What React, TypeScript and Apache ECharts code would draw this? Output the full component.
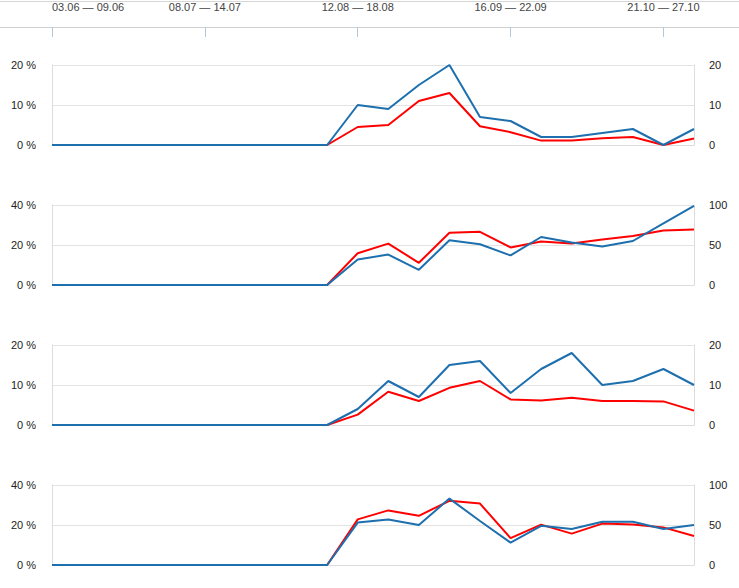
import React, { useEffect, useRef } from "react";
import * as echarts from "echarts";

const weeks = [
  "03.06 — 09.06", "10.06 — 16.06", "17.06 — 23.06", "24.06 — 30.06", "01.07 — 07.07",
  "08.07 — 14.07", "15.07 — 21.07", "22.07 — 28.07", "29.07 — 04.08", "05.08 — 11.08",
  "12.08 — 18.08", "19.08 — 25.08", "26.08 — 01.09", "02.09 — 08.09", "09.09 — 15.09",
  "16.09 — 22.09", "23.09 — 29.09", "30.09 — 06.10", "07.10 — 13.10", "14.10 — 20.10",
  "21.10 — 27.10", "28.10 — 03.11",
];

const red1 = [0, 0, 0, 0, 0, 0, 0, 0, 0, 0, 4.5, 5.0, 11.0, 13.0, 4.7, 3.2, 1.1, 1.1, 1.7, 2.0, 0, 1.6];
const blue1 = [0, 0, 0, 0, 0, 0, 0, 0, 0, 0, 10, 9, 15, 20, 7, 6, 2, 2, 3, 4, 0, 4];
const red2 = [0, 0, 0, 0, 0, 0, 0, 0, 0, 0, 15.9, 20.7, 11.1, 26.1, 26.6, 18.8, 21.7, 20.7, 22.8, 24.5, 27.3, 27.8];
const blue2 = [0, 0, 0, 0, 0, 0, 0, 0, 0, 0, 32, 38, 19, 56, 51, 37, 60, 53, 48, 55, 77, 99];
const red3 = [0, 0, 0, 0, 0, 0, 0, 0, 0, 0, 2.6, 8.3, 6.0, 9.3, 11.0, 6.4, 6.1, 6.8, 6.0, 6.0, 5.9, 3.6];
const blue3 = [0, 0, 0, 0, 0, 0, 0, 0, 0, 0, 4, 11, 7, 15, 16, 8, 14, 18, 10, 11, 14, 10];
const red4 = [0, 0, 0, 0, 0, 0, 0, 0, 0, 0, 22.8, 27.3, 24.6, 32.1, 30.7, 13.4, 20.2, 15.7, 20.7, 20.2, 18.8, 14.5];
const blue4 = [0, 0, 0, 0, 0, 0, 0, 0, 0, 0, 53, 57, 50, 83, 55, 28, 49, 45, 54, 54, 45, 50];

const leftMax = [20, 40, 20, 40];
const rightMax = [20, 100, 20, 100];
const redSeries = [red1, red2, red3, red4];
const blueSeries = [blue1, blue2, blue3, blue4];

const RED = "#ff0000";
const BLUE = "#1d6fae";
const FONT = "Liberation Sans, Arial, sans-serif";

export default function App() {
  const ref = useRef<HTMLDivElement>(null);
  useEffect(() => {
    if (!ref.current) return;
    const chart = echarts.init(ref.current, undefined, { renderer: "svg" });
    const panelTops = [65, 205, 345, 485];
    const grids: any[] = [{ left: 52, right: 45, top: 27, height: 10 }];
    const xAxes: any[] = [
      {
        type: "category",
        gridIndex: 0,
        data: weeks,
        boundaryGap: false,
        position: "top",
        axisLine: { show: false },
        axisTick: { show: true, length: 10, interval: 4, lineStyle: { color: "#b3c6dc", width: 1 } },
        axisLabel: {
          interval: 4,
          align: "center",
          alignMinLabel: "left",
          margin: 15,
          fontSize: 11,
          color: "#444",
          fontFamily: FONT,
        },
        splitLine: { show: false },
      },
    ];
    const yAxes: any[] = [
      { type: "value", gridIndex: 0, min: 0, max: 1, show: false },
    ];
    const series: any[] = [];
    panelTops.forEach((top, i) => {
      const g = i + 1;
      grids.push({ left: 52, right: 45, top, height: 80 });
      xAxes.push({
        type: "category",
        gridIndex: g,
        data: weeks,
        boundaryGap: false,
        axisLine: { show: true, lineStyle: { color: "#dcdcdc" } },
        axisTick: { show: false },
        axisLabel: { show: false },
        splitLine: { show: false },
      });
      yAxes.push({
        type: "value",
        gridIndex: g,
        position: "left",
        min: 0,
        max: leftMax[i],
        interval: leftMax[i] / 2,
        axisLine: { show: true, lineStyle: { color: "#dcdcdc" } },
        axisTick: { show: false },
        splitLine: { show: true, lineStyle: { color: "#e3e3e3" } },
        axisLabel: { formatter: "{value} %", fontSize: 11, color: "#222", margin: 16, fontFamily: FONT },
      });
      yAxes.push({
        type: "value",
        gridIndex: g,
        position: "right",
        min: 0,
        max: rightMax[i],
        interval: rightMax[i] / 2,
        axisLine: { show: true, lineStyle: { color: "#dcdcdc" } },
        axisTick: { show: false },
        splitLine: { show: false },
        axisLabel: { fontSize: 11, color: "#222", margin: 15, fontFamily: FONT },
      });
      series.push({
        type: "line",
        xAxisIndex: g,
        yAxisIndex: 1 + i * 2,
        data: redSeries[i],
        symbol: "none",
        lineStyle: { color: RED, width: 2 },
        itemStyle: { color: RED },
      });
      series.push({
        type: "line",
        xAxisIndex: g,
        yAxisIndex: 2 + i * 2,
        data: blueSeries[i],
        symbol: "none",
        lineStyle: { color: BLUE, width: 2 },
        itemStyle: { color: BLUE },
      });
    });
    chart.setOption({
      animation: false,
      backgroundColor: "#ffffff",
      textStyle: { fontFamily: FONT },
      grid: grids,
      xAxis: xAxes,
      yAxis: yAxes,
      series,
      graphic: [
        { type: "line", shape: { x1: 0, y1: 1.5, x2: 739, y2: 1.5 }, style: { stroke: "#d6d6d6", lineWidth: 1 }, silent: true },
        { type: "line", shape: { x1: 0, y1: 27.5, x2: 739, y2: 27.5 }, style: { stroke: "#d0d0d0", lineWidth: 1 }, silent: true },
      ],
    });
    return () => chart.dispose();
  }, []);
  return (
    <div
      ref={ref}
      style={{ position: "absolute", left: 0, top: 0, width: 739, height: 588 }}
    />
  );
}
